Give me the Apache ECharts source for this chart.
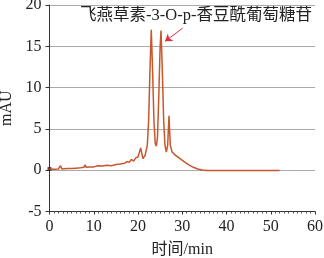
<!DOCTYPE html>
<html><head><meta charset="utf-8">
<script src="https://cdn.jsdelivr.net/npm/echarts@6/dist/echarts.min.js"></script>
<style>html,body{margin:0;padding:0;background:#fff}#c{width:324px;height:258px}</style>
</head><body><div id="c"></div>
<script>
const times = [0,1,2,2.5,2.8,4,5,6,7,7.8,8.0,8.3,9,10,11,12,13,14,15,16,17,17.5,18,18.5,19,19.5,20,20.6,21.1,21.6,22.1,22.4,22.7,23.0,23.3,23.6,23.9,24.15,24.4,24.7,25.0,25.2,25.5,25.8,26.1,26.4,26.7,27.0,27.3,27.7,28.5,29.5,30.5,31.5,32.5,33.5,34.5,35.5,40,45,52];
const mAU   = [0.15,0.12,0.15,0.55,0.15,0.2,0.2,0.25,0.3,0.35,0.65,0.35,0.4,0.4,0.55,0.5,0.6,0.55,0.7,0.75,0.85,1.05,0.95,1.3,1.1,1.5,1.6,2.7,1.4,1.8,3.0,6.0,12.0,17.0,12.0,6.0,3.2,2.9,4.0,9.0,15.0,16.9,12.0,6.0,3.0,2.2,3.0,6.6,3.0,2.2,1.8,1.4,1.0,0.65,0.35,0.15,0.02,-0.05,-0.05,-0.05,-0.05];
const xTicks = [0,10,20,30,40,50,60];
const yTicks = [-5,0,5,10,15,20];
const label = '飞燕草素-3-O-p-香豆酰葡萄糖苷';
const arrowFrom = [30.1, 17.2];
const arrowTo = [26.1, 15.6];
const xName = '时间/min';
const yName = 'mAU';

const font = '"Liberation Serif","Noto Sans CJK SC",serif';
const chart = echarts.init(document.getElementById('c'));
chart.setOption({
  animation:false,
  grid:{left:49.5,right:9,top:5,bottom:46.5,containLabel:false,outerBoundsMode:'none'},
  xAxis:{type:'value',min:xTicks[0],max:xTicks[xTicks.length-1],interval:10,
    name:xName,nameLocation:'middle',nameGap:30,
    nameTextStyle:{fontFamily:font,fontSize:16,color:'#222'},
    axisLine:{onZero:false,lineStyle:{color:'#333',width:1}},
    axisTick:{inside:false,length:3,lineStyle:{color:'#333'}},
    minorTick:{show:true,splitNumber:10,length:2,lineStyle:{color:'#555'}},
    axisLabel:{fontFamily:font,fontSize:16,color:'#222',margin:7},
    splitLine:{show:false}},
  yAxis:{type:'value',min:yTicks[0],max:yTicks[yTicks.length-1],interval:5,
    name:yName,nameLocation:'middle',nameGap:28,nameRotate:90,
    nameTextStyle:{fontFamily:font,fontSize:16,color:'#222'},
    axisLine:{show:true,lineStyle:{color:'#333',width:1}},
    axisTick:{show:true,length:4,lineStyle:{color:'#333'}},
    axisLabel:{fontFamily:font,fontSize:16,color:'#222',margin:8},
    splitLine:{show:true,lineStyle:{color:'#aaaaaa',width:1}}},
  series:[{type:'line',data:times.map((t,i)=>[t,mAU[i]]),showSymbol:false,symbol:'none',
    lineStyle:{color:'#c8572c',width:1.5},
    markLine:{silent:true,symbol:['none','arrow'],symbolSize:7,
      label:{show:false},
      lineStyle:{color:'#e0303a',width:1,type:'solid'},
      data:[[{coord:arrowFrom},{coord:arrowTo}]]}},
   {type:'scatter',data:[[times[0],mAU[0]]],symbol:'rect',symbolSize:4,itemStyle:{color:'#402020'}}],
  graphic:[{type:'text',left:80,top:7,style:{text:label,fontFamily:font,fontSize:16.5,fill:'#222'}}]
});
</script></body></html>
